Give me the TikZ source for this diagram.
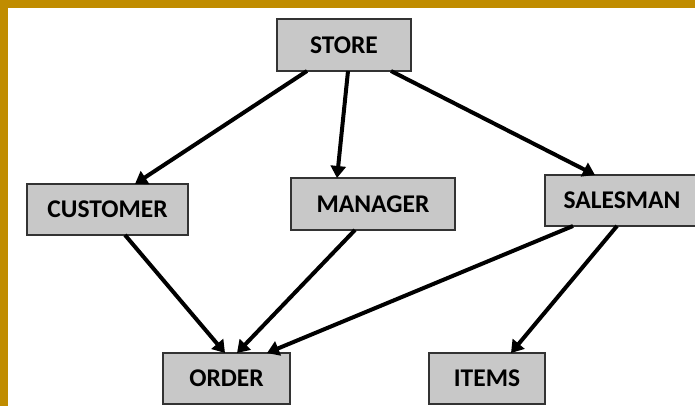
\documentclass[tikz,border=0pt]{standalone}
\usepackage{fontspec}
\setmainfont{Carlito}
\usetikzlibrary{arrows.meta}
\usetikzlibrary{positioning}
\definecolor{framegold}{RGB}{192,140,0}
\definecolor{boxgray}{RGB}{200,200,200}
\tikzset{
  entity/.style={rectangle, draw=black!80, line width=1.4pt, fill=boxgray,
    outer sep=0pt, inner sep=0pt, minimum height=51pt,
    font=\fontsize{25.5}{29}\selectfont\bfseries, text=black},
  link/.style={line width=4pt, -{Triangle[length=12pt, width=15pt]}},
}
\begin{document}
\begin{tikzpicture}[x=1pt, y=-1pt]
  \useasboundingbox (0,0) rectangle (695,406);
  \fill[white] (0,0) rectangle (695,406);
  \fill[framegold] (0,0) rectangle (695,8);
  \fill[framegold] (0,0) rectangle (8,406);
  % entities
  \node[entity, minimum width=134pt, minimum height=52pt] (store) at (344,45) {STORE};
  \node[entity, minimum width=161pt] (cust) at (107.5,209.5) {CUSTOMER};
  \node[entity, minimum width=164pt, minimum height=52pt] (mgr) at (373,204) {MANAGER};
  \node[entity, minimum width=154pt] (sales) at (622,200.5) {SALESMAN};
  \node[entity, minimum width=127pt] (order) at (226.5,378.5) {ORDER};
  \node[entity, minimum width=116pt] (items) at (487,378.5) {ITEMS};
  % links
  \draw[link] ([xshift=-37pt]store.south) -- ([xshift=27.5pt]cust.north);
  \draw[link] ([xshift=4pt]store.south) -- ([xshift=-36pt]mgr.north);
  \draw[link] ([xshift=47pt]store.south) -- ([xshift=-27pt]sales.north);
  \draw[link] ([xshift=17.5pt]cust.south) -- ([xshift=-1.5pt]order.north);
  \draw[link] ([xshift=-18pt]mgr.south) -- ([xshift=10.5pt]order.north);
  \draw[link] ([xshift=-49pt]sales.south) -- ([xshift=40.5pt]order.north);
  \draw[link] ([xshift=-5pt]sales.south) -- ([xshift=24pt]items.north);
\end{tikzpicture}
\end{document}
